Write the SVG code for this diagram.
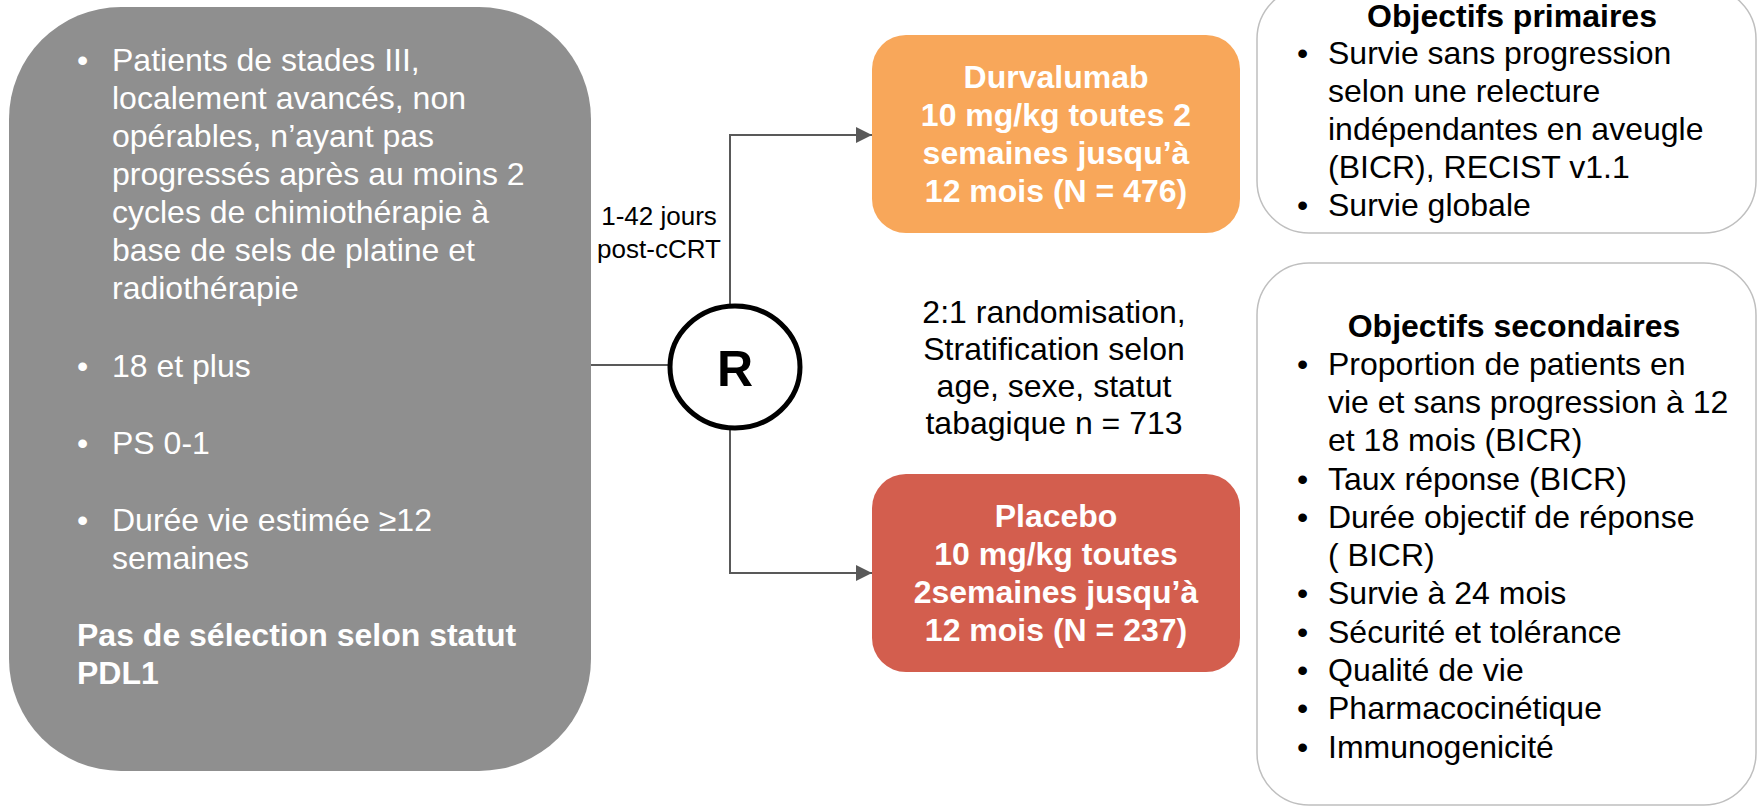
<svg xmlns="http://www.w3.org/2000/svg" width="1758" height="807" viewBox="0 0 1758 807">
<style>
text{font-family:"Liberation Sans",Arial,sans-serif;font-size:32px}
.w{fill:#ffffff}
.k{fill:#000000}
.b{font-weight:bold}
.c{text-anchor:middle}
.conn{fill:none;stroke:#595959;stroke-width:2}
.obj{fill:#ffffff;stroke:#bfbfbf;stroke-width:1.5}
</style>
<defs>
<marker id="arr" viewBox="0 0 16 16" refX="16" refY="8" markerWidth="16" markerHeight="16" markerUnits="userSpaceOnUse" orient="auto">
<path d="M0,0 L16,8 L0,16 Z" fill="#595959"/>
</marker>
</defs>

<g id="population">
<rect x="9" y="7" width="582" height="764" rx="112" ry="112" fill="#8f8f8f"/>
<g class="w">
<text x="77" y="71">•</text>
<text x="112" y="71">Patients de stades III,</text>
<text x="112" y="109">localement avancés, non</text>
<text x="112" y="147">opérables, n’ayant pas</text>
<text x="112" y="185">progressés après au moins 2</text>
<text x="112" y="223">cycles de chimiothérapie à</text>
<text x="112" y="261">base de sels de platine et</text>
<text x="112" y="299">radiothérapie</text>
<text x="77" y="377">•</text>
<text x="112" y="377">18 et plus</text>
<text x="77" y="454">•</text>
<text x="112" y="454">PS 0-1</text>
<text x="77" y="531">•</text>
<text x="112" y="531">Durée vie estimée ≥12</text>
<text x="112" y="569">semaines</text>
<text class="b" x="77" y="646">Pas de sélection selon statut</text>
<text class="b" x="77" y="684">PDL1</text>
</g>
</g>

<g id="connectors">
<line class="conn" x1="591" y1="365" x2="670" y2="365"/>
<polyline class="conn" points="730,306 730,135 872,135" marker-end="url(#arr)"/>
<polyline class="conn" points="730,428 730,573 872,573" marker-end="url(#arr)"/>
</g>

<g id="delay-label">
<text class="k c" x="659" y="225" style="font-size:26px">1-42 jours</text>
<text class="k c" x="659" y="258" style="font-size:26px">post-cCRT</text>
</g>

<g id="randomisation">
<ellipse cx="735" cy="367" rx="65" ry="61" fill="#ffffff" stroke="#000000" stroke-width="5"/>
<text class="k b c" x="735" y="386" style="font-size:50px">R</text>
</g>

<g id="durvalumab">
<rect x="872" y="35" width="368" height="198" rx="34" ry="34" fill="#f8a75a"/>
<g class="w b c">
<text x="1056" y="88">Durvalumab</text>
<text x="1056" y="126">10 mg/kg toutes 2</text>
<text x="1056" y="164">semaines jusqu’à</text>
<text x="1056" y="202">12 mois (N = 476)</text>
</g>
</g>

<g id="randomisation-info">
<g class="k c">
<text x="1054" y="323">2:1 randomisation,</text>
<text x="1054" y="360">Stratification selon</text>
<text x="1054" y="397">age, sexe, statut</text>
<text x="1054" y="434">tabagique n = 713</text>
</g>
</g>

<g id="placebo">
<rect x="872" y="474" width="368" height="198" rx="34" ry="34" fill="#d35e4e"/>
<g class="w b c">
<text x="1056" y="527">Placebo</text>
<text x="1056" y="565">10 mg/kg toutes</text>
<text x="1056" y="603">2semaines jusqu’à</text>
<text x="1056" y="641">12 mois (N = 237)</text>
</g>
</g>

<g id="primary-objectives">
<rect class="obj" x="1257" y="-13" width="499" height="246" rx="52" ry="52"/>
<g class="k">
<text class="b c" x="1512" y="27">Objectifs primaires</text>
<text x="1297" y="64">•</text>
<text x="1328" y="64">Survie sans progression</text>
<text x="1328" y="102">selon une relecture</text>
<text x="1328" y="140">indépendantes en aveugle</text>
<text x="1328" y="178">(BICR), RECIST v1.1</text>
<text x="1297" y="216">•</text>
<text x="1328" y="216">Survie globale</text>
</g>
</g>

<g id="secondary-objectives">
<rect class="obj" x="1257" y="263" width="499" height="542" rx="52" ry="52"/>
<g class="k">
<text class="b c" x="1514" y="337">Objectifs secondaires</text>
<text x="1297" y="375">•</text>
<text x="1328" y="375">Proportion de patients en</text>
<text x="1328" y="413">vie et sans progression à 12</text>
<text x="1328" y="451">et 18 mois (BICR)</text>
<text x="1297" y="490">•</text>
<text x="1328" y="490">Taux réponse (BICR)</text>
<text x="1297" y="528">•</text>
<text x="1328" y="528">Durée objectif de réponse</text>
<text x="1328" y="566">( BICR)</text>
<text x="1297" y="604">•</text>
<text x="1328" y="604">Survie à 24 mois</text>
<text x="1297" y="643">•</text>
<text x="1328" y="643">Sécurité et tolérance</text>
<text x="1297" y="681">•</text>
<text x="1328" y="681">Qualité de vie</text>
<text x="1297" y="719">•</text>
<text x="1328" y="719">Pharmacocinétique</text>
<text x="1297" y="758">•</text>
<text x="1328" y="758">Immunogenicité</text>
</g>
</g>
</svg>
